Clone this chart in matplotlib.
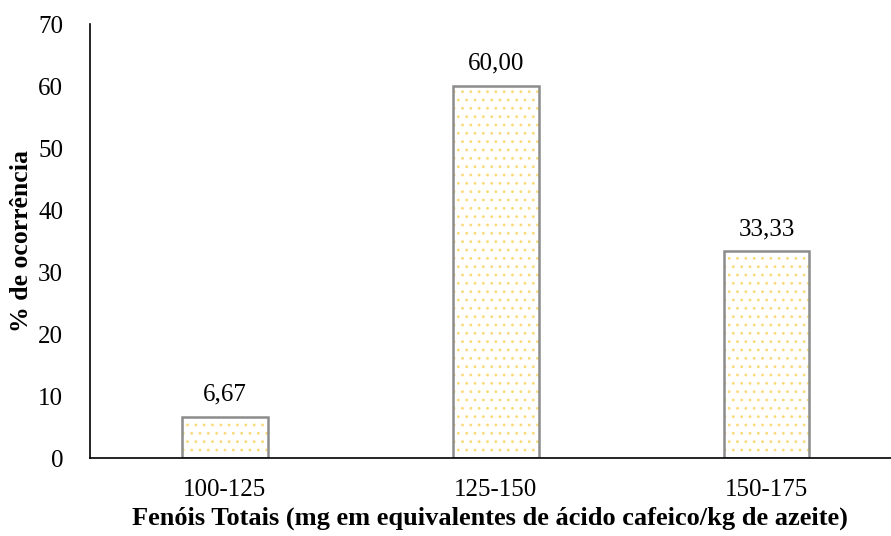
import matplotlib.pyplot as plt

plt.rcParams['font.family'] = ['Liberation Serif', 'DejaVu Serif']
plt.rcParams['hatch.linewidth'] = 0.8

classes = ['100-125', '125-150', '150-175']
ocorrencia = [6.67, 60.00, 33.33]

fig = plt.figure(figsize=(8.91, 5.36), dpi=100)
ax = fig.add_axes([0.1005, 0.1455, 0.8995, 0.8097])

x = range(len(classes))
# dotted fill first, then the grey outline on top
ax.bar(x, ocorrencia, width=0.317, color='white', edgecolor='#fada78',
       linewidth=0, hatch='..')
bars = ax.bar(x, ocorrencia, width=0.317, fill=False, edgecolor='#8c8c8c',
              linewidth=1.8)

for b, v in zip(bars, ocorrencia):
    ax.annotate(f'{v:.2f}'.replace('.', ','), (b.get_x() + b.get_width() / 2, v),
                xytext=(0, 8), textcoords='offset points', ha='center', va='bottom',
                fontsize=18)

ax.set_xticks(list(x))
ax.set_xticklabels(classes, fontsize=18)
ax.set_xlim(-0.5, 2.46)
ax.set_ylim(0, 70)
ax.set_yticks(range(0, 71, 10))
ax.tick_params(axis='y', labelsize=18, length=0, pad=19)
ax.tick_params(axis='x', length=0, pad=15)

ax.spines['top'].set_visible(False)
ax.spines['right'].set_visible(False)
ax.spines['left'].set_linewidth(1.2)
ax.spines['bottom'].set_linewidth(1.2)

ax.set_ylabel('% de ocorrência', fontsize=18.5, fontweight='bold', labelpad=4)
ax.set_xlabel('Fenóis Totais (mg em equivalentes de ácido cafeico/kg de azeite)',
              fontsize=19, fontweight='bold', labelpad=4)

fig.savefig('out.png', dpi=100)
